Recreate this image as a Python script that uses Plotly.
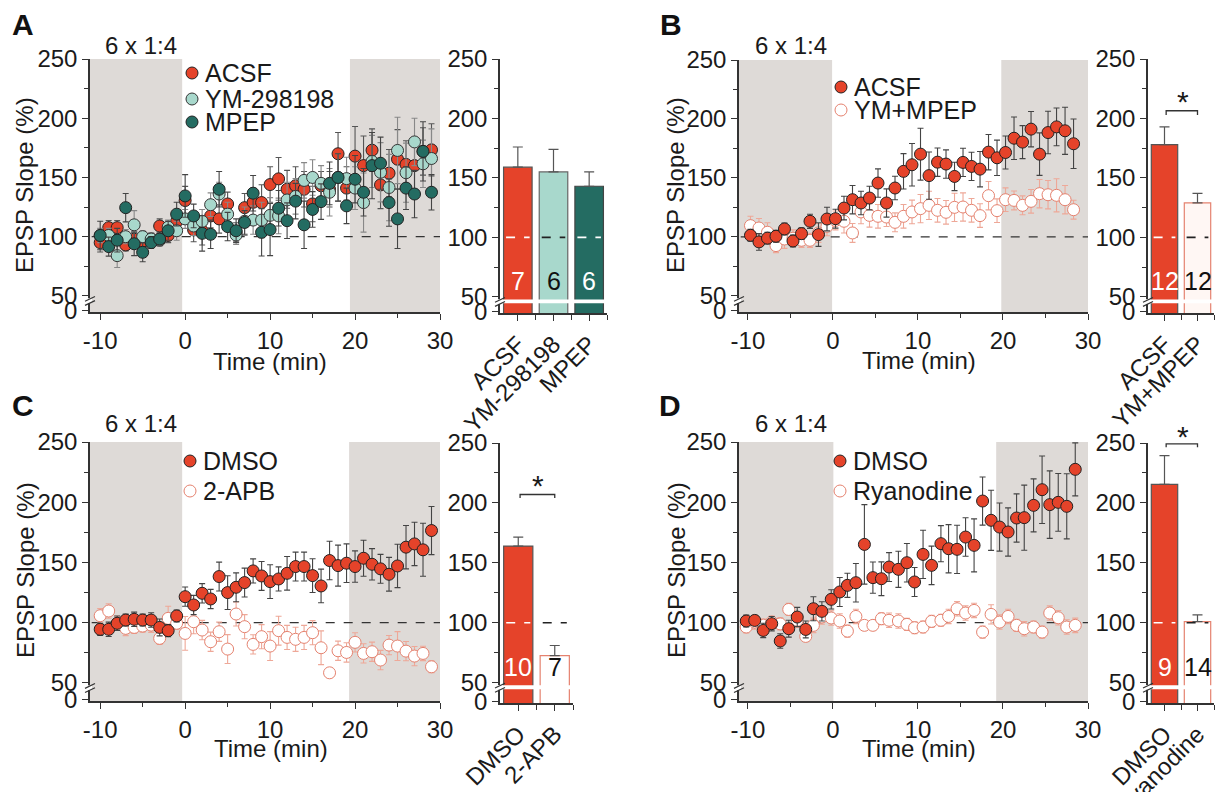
import plotly.graph_objects as go

W, H = 1223, 800          # browser window
OFF = 8                   # page body margin
FW, FH = W - 2 * OFF, H - 2 * OFF   # figure size that fits the window without scrolling

# ------------------------- data -------------------------
# Panel A
tA = [-10,-9,-8,-7,-6,-5,-4,-3,-2,-1,0,1,2,3,4,5,6,7,8,9,10,11,12,13,14,15,16,17,18,19,20,21,22,23,24,25,26,27,28,29]
A_acsf = [95,107.6,107.6,93,97.8,96,98,109,101,112.7,130.5,105.7,105,117.5,115,127.6,103.7,124.5,129,128.8,
          144,148.8,140,143,140,127.6,143,140,170,141,168,160,173,143.7,153.6,165.4,161,160,172,173.3]
A_acsf_err = [8,6,6,5,6,5,5,6,6,8,12,10,12,10,12,10,8,12,12,15,15,18,16,16,15,15,12,15,18,18,25,25,18,20,20,25,20,20,20,22]
A_ym = [101,101,84,100,110,100,98,97,108,105,115,109,113,127,136,119,101.4,113,114,114,
        118,117.5,131,134,147.5,150,145,137.5,150,149,141,128.8,163.5,154.4,141.5,172.8,154,180,161.5,166]
A_ym_err = [6,6,10,6,12,5,5,5,6,8,8,8,10,10,10,10,8,12,12,15,15,15,15,15,15,15,15,20,20,18,18,25,22,25,28,28,25,20,20,25]
A_mpep = [101,91.6,97,124.5,94,86.8,95,98,105,119,134.4,117.5,102.8,102,140,108.5,105,112,136.7,103.7,
          106,124,113.5,130,110,123,129.6,145,150,126,148.5,137.5,160,162,128.8,115,141,136,172,137.5]
A_mpep_err = [12,8,10,12,10,8,5,5,8,10,18,10,15,12,15,12,10,10,15,20,22,15,15,15,20,15,15,18,20,15,20,20,28,22,20,25,18,20,25,15]

# Panel B
tB = [-9.7,-8.7,-7.7,-6.7,-5.7,-4.7,-3.7,-2.7,-1.7,-0.7,0.3,1.3,2.3,3.3,4.3,5.3,6.3,7.3,8.3,9.3,
      10.3,11.3,12.3,13.3,14.3,15.3,16.3,17.3,18.3,19.3,20.3,21.3,22.3,23.3,24.3,25.3,26.3,27.3,28.3]
B_acsf = [101.4,95.8,99,100.6,106.8,96.6,102.8,113.3,102,115.2,115.5,124.5,131.6,128.8,133,145.7,128.8,141.5,155.6,161.2,
          170.2,152,163.4,161.8,151.3,163.2,159.8,157.5,171.9,167.1,171.6,183.7,180.4,191.4,170.2,188.5,193.3,190,179]
B_acsf_err = [5,7,5,5,5,5,5,6,10,10,8,10,12,10,10,12,12,10,15,18,22,20,12,12,12,12,12,15,15,15,14,18,14,15,18,18,16,20,21]
B_ymm = [109.6,107.6,104,92.7,98.3,99,97.2,97.2,103.4,109,114,113.3,103.4,121.2,118.3,117.5,116.9,112.4,117.5,121.2,
         124,126.8,122.6,120.9,125.1,125.4,122.6,118.1,135,122.3,131.6,131,126.8,130.2,136.7,135.8,135.3,131.6,123.1]
B_ymm_err = [8,8,8,6,8,7,6,6,8,8,8,10,8,10,10,10,8,8,10,10,12,12,10,10,12,12,10,10,12,10,10,8,8,10,12,12,14,12,8]

# Panel C
tC = [-10,-9,-8,-7,-6,-5,-4,-3,-2,-1,0,1,2,3,4,5,6,7,8,9,10,11,12,13,14,15,16,17,18,19,20,21,22,23,24,25,26,27,28,29]
C_dmso = [94.5,94.5,99.5,102.2,102.8,102.2,102.2,96.1,93.4,105.6,121.6,114.7,124.4,119.7,138.3,125,129.4,133.3,143,138.8,
          134.1,136.3,141,146.6,146.6,139.1,130.5,151.6,147.4,149.4,146.6,153.5,148.5,144.7,140.2,147.1,162.7,165.4,160.5,176.5]
C_dmso_err = [5,6,6,5,6,5,6,7,5,5,8,8,8,8,12,14,12,12,10,12,14,10,14,12,12,14,14,16,17,16,13,15,13,12,14,18,18,18,22,20]
C_apb = [105.8,109.7,99.5,95.3,96.1,97.2,98,87,103.6,99.5,91.1,100.8,93.9,84.2,92.5,78.1,107.2,96.7,82,88.4,
         80.6,93.4,87.8,86.2,87.8,91.7,79.2,58.4,76.7,75.3,83.7,74.5,75.9,69,81.4,80.6,76.4,72.3,74.5,63.4]
C_apb_err = [6,6,6,6,5,5,6,5,10,5,14,10,8,8,8,12,10,10,8,10,12,12,10,10,10,10,14,4,8,8,8,8,8,8,8,12,8,8,6,5]

# Panel D
tD = [-10.2,-9.2,-8.2,-7.2,-6.2,-5.2,-4.2,-3.2,-2.3,-1.3,-0.2,0.8,1.7,2.7,3.7,4.7,5.7,6.6,7.7,8.7,
      9.6,10.6,11.6,12.7,13.6,14.6,15.6,16.6,17.6,18.6,19.6,20.6,21.6,22.5,23.6,24.6,25.5,26.5,27.5,28.5]
D_dmso = [101.4,101.9,93.6,99.2,84.8,95,104.7,94.4,111.6,109.4,119.4,125.5,131,133.2,165,137.4,136.5,146.2,144.3,149.8,
          133.8,156.7,147.6,165.6,161.4,160.9,171.1,164.2,201,185,179.4,175.3,186.9,187.2,197.4,210.4,198,199.9,196.6,227.3]
D_dmso_err = [5,4,6,6,6,7,8,7,10,8,8,12,10,16,33,13,14,12,15,16,12,20,16,15,20,20,16,22,20,25,20,20,20,27,22,28,28,24,27,22]
D_rya = [96.4,100.5,98,100.5,99,111,102,88.6,97.8,104.7,103.9,101.4,93,105.2,97.8,97.8,103.3,102,101.4,98.6,
         95.8,96.4,101.1,102,105.2,111.6,108,110.2,92.2,106.9,100.5,105.2,97.8,95,96.4,92.2,108,104.1,96.4,97.8]
D_rya_err = [5,6,5,5,5,5,6,4,6,6,6,6,5,6,4,4,5,6,6,5,5,5,5,5,6,6,6,6,5,8,6,6,5,6,5,5,6,6,6,6]

# Bars
A_bar_names = ["ACSF", "YM-298198", "MPEP"]
A_bar_vals = [159, 155, 143]
A_bar_err = [17, 19, 12]
A_bar_n = ["7", "6", "6"]
B_bar_names = ["ACSF", "YM+MPEP"]
B_bar_vals = [178, 129]
B_bar_err = [15, 8]
B_bar_n = ["12", "12"]
C_bar_names = ["DMSO", "2-APB"]
C_bar_vals = [164, 72.5]
C_bar_err = [7.5, 8.5]
C_bar_n = ["10", "7"]
D_bar_names = ["DMSO", "Ryanodine"]
D_bar_vals = [215.5, 101]
D_bar_err = [24, 5.5]
D_bar_n = ["9", "14"]

y_ticks = [50, 100, 150, 200, 250]
x_ticks = [-10, 0, 10, 20, 30]
x_ticktext = ["-10", "0", "10", "20", "30"]

# ------------------------- styles -------------------------
RED = "#e5432a"
LTEAL = "#a8d8cc"
DTEAL = "#246c62"
OPEN_LINE = "#e5826f"
OPEN_ERR = "#eea898"
SHADE = "#dedad7"
AX = "#333333"
FONT = "Liberation Sans, Arial, sans-serif"
TXT = "#1a1a1a"

fig = go.Figure()
shapes = []
annotations = []
layout = {}


def px(xp):
    return (xp - OFF) / FW


def py(yp):
    return 1 - (yp - OFF) / FH


def add_scatter(ax_i, t, y, err, fill, line, errcol, name):
    xa = "x" if ax_i == 1 else f"x{ax_i}"
    ya = "y" if ax_i == 1 else f"y{ax_i}"
    fig.add_trace(go.Scatter(
        x=t, y=y, mode="markers", name=name, showlegend=False,
        xaxis=xa, yaxis=ya, cliponaxis=False,
        marker=dict(size=12, color=fill, line=dict(color=line, width=1)),
        error_y=dict(type="data", array=err, color=errcol, thickness=1.1, width=3),
    ))


panels = [
    dict(letter="A", sx=(90, 440), sy=(59, 312), xr=[-11.2, 30], yr=[36.4, 250],
         bx=(500, 607), by=(59, 313), byr=[36.4, 250], shade=(-0.35, 19.4),
         names=A_bar_names, vals=A_bar_vals, errs=A_bar_err, ns=A_bar_n,
         barfill=[RED, LTEAL, DTEAL], barline=["#555", "#666", "#444"],
         dashcol=["white", "#222", "white"], ncol=["white", "#111", "white"],
         legend=[("ACSF", RED, "#222", 73), ("YM-298198", LTEAL, "#333", 99), ("MPEP", DTEAL, "#222", 122)],
         legx=192, label_pos=(23, 25), stim=(141, 45), time_lbl=(270, 362), ytitle=(25, 185),
         sig=None),
    dict(letter="B", sx=(739, 1088), sy=(60, 312), xr=[-11.05, 30], yr=[36.4, 250],
         bx=(1148, 1214), by=(59, 313), byr=[36.4, 250], shade=(-0.1, 19.8),
         names=B_bar_names, vals=B_bar_vals, errs=B_bar_err, ns=B_bar_n,
         barfill=[RED, "#fff7f4"], barline=["#555", OPEN_LINE],
         dashcol=["white", "#222"], ncol=["white", "#111"],
         legend=[("ACSF", RED, "#222", 87), ("YM+MPEP", "white", OPEN_LINE, 110)],
         legx=841, label_pos=(671, 25), stim=(791, 45), time_lbl=(919, 360), ytitle=(676, 185),
         sig=(203, 206.5, 1183, 101)),
    dict(letter="C", sx=(90, 440), sy=(442, 701), xr=[-11.2, 30], yr=[35, 250],
         bx=(500, 573), by=(443, 703), byr=[33, 250], shade=(-0.35, 19.3),
         names=C_bar_names, vals=C_bar_vals, errs=C_bar_err, ns=C_bar_n,
         barfill=[RED, "white"], barline=["#555", OPEN_LINE],
         dashcol=["white", "#222"], ncol=["white", "#111"],
         legend=[("DMSO", RED, "#222", 461), ("2-APB", "white", OPEN_LINE, 491)],
         legx=190, label_pos=(23, 405), stim=(141, 423), time_lbl=(271, 748), ytitle=(25, 570),
         sig=(204, 207, 538, 485)),
    dict(letter="D", sx=(739, 1088), sy=(442, 701), xr=[-11.05, 30], yr=[35, 250],
         bx=(1148, 1214), by=(443, 703), byr=[33, 250], shade=(0.05, 19.2),
         names=D_bar_names, vals=D_bar_vals, errs=D_bar_err, ns=D_bar_n,
         barfill=[RED, "white"], barline=["#555", OPEN_LINE],
         dashcol=["white", "#222"], ncol=["white", "#111"],
         legend=[("DMSO", RED, "#222", 461), ("Ryanodine", "white", OPEN_LINE, 491)],
         legx=840, label_pos=(670, 405), stim=(791, 423), time_lbl=(919, 748), ytitle=(676, 570),
         sig=(246.5, 249.3, 1183, 436)),
]

series = [
    [(tA, A_acsf, A_acsf_err, RED, "#222", "#555", "ACSF"),
     (tA, A_ym, A_ym_err, LTEAL, "#333", "#888", "YM-298198"),
     (tA, A_mpep, A_mpep_err, DTEAL, "#222", "#444", "MPEP")],
    [(tB, B_ymm, B_ymm_err, "white", OPEN_LINE, OPEN_ERR, "YM+MPEP"),
     (tB, B_acsf, B_acsf_err, RED, "#222", "#444", "ACSF")],
    [(tC, C_apb, C_apb_err, "white", OPEN_LINE, OPEN_ERR, "2-APB"),
     (tC, C_dmso, C_dmso_err, RED, "#222", "#444", "DMSO")],
    [(tD, D_rya, D_rya_err, "white", OPEN_LINE, OPEN_ERR, "Ryanodine"),
     (tD, D_dmso, D_dmso_err, RED, "#222", "#444", "DMSO")],
]

tickfont = dict(family=FONT, size=24, color=TXT)

for i, p in enumerate(panels):
    si = 2 * i + 1
    bi = 2 * i + 2
    sxk = "xaxis" if si == 1 else f"xaxis{si}"
    syk = "yaxis" if si == 1 else f"yaxis{si}"
    sxr = "x" if si == 1 else f"x{si}"
    syr = "y" if si == 1 else f"y{si}"
    bxr, byr_ = f"x{bi}", f"y{bi}"

    common_ax = dict(showline=True, linecolor=AX, linewidth=1.5, ticks="outside", ticklen=6,
                     tickwidth=1.3, tickcolor=AX, showgrid=False, zeroline=False, tickfont=tickfont,
                     fixedrange=True, automargin=False)
    layout[sxk] = dict(common_ax, domain=[px(p["sx"][0]), px(p["sx"][1])], range=p["xr"], anchor=syr,
                       tickmode="array", tickvals=x_ticks, ticktext=x_ticktext,
                       minor=dict(tickvals=[-5, 5, 15, 25], ticklen=4, ticks="outside", tickcolor=AX))
    y0tick = p["yr"][0] + 1.2
    layout[syk] = dict(common_ax, domain=[py(p["sy"][1]), py(p["sy"][0])], range=p["yr"], anchor=sxr,
                       tickmode="array", tickvals=[y0tick] + y_ticks,
                       ticktext=["0"] + [str(v) for v in y_ticks],
                       minor=dict(tickvals=[75, 125, 175, 225], ticklen=4, ticks="outside", tickcolor=AX))
    n = len(p["names"])
    layout[f"xaxis{bi}"] = dict(common_ax, domain=[px(p["bx"][0]), px(p["bx"][1])], range=[-0.5, n - 0.5],
                                anchor=byr_, tickmode="array", tickvals=list(range(n)), ticktext=p["names"],
                                tickangle=-45,
                                minor=dict(tickvals=[k + 0.5 for k in range(n)], ticklen=5, ticks="outside",
                                           tickcolor=AX))
    by0tick = p["byr"][0] + 1.2
    layout[f"yaxis{bi}"] = dict(common_ax, domain=[py(p["by"][1]), py(p["by"][0])], range=p["byr"],
                                anchor=bxr, tickmode="array", tickvals=[by0tick] + y_ticks,
                                ticktext=["0"] + [str(v) for v in y_ticks],
                                minor=dict(tickvals=[75, 125, 175, 225], ticklen=4, ticks="outside",
                                           tickcolor=AX))

    # shading
    shapes.append(dict(type="rect", xref=sxr, yref=syr, x0=p["xr"][0], x1=p["shade"][0],
                       y0=p["yr"][0], y1=250, fillcolor=SHADE, line=dict(width=0), layer="below"))
    shapes.append(dict(type="rect", xref=sxr, yref=syr, x0=p["shade"][1], x1=30,
                       y0=p["yr"][0], y1=250, fillcolor=SHADE, line=dict(width=0), layer="below"))
    # baseline
    shapes.append(dict(type="line", xref=sxr, yref=syr, x0=p["xr"][0] + 0.2, x1=30, y0=100, y1=100,
                       line=dict(color="#333", width=1.3, dash="dash"), layer="below"))

    # scatter traces
    for (t, y, e, fill, line, ecol, nm) in series[i]:
        add_scatter(si, t, y, e, fill, line, ecol, nm)

    # bars
    fig.add_trace(go.Bar(
        x=list(range(n)), y=p["vals"], width=0.8, xaxis=bxr, yaxis=byr_, showlegend=False,
        marker=dict(color=p["barfill"], line=dict(color=p["barline"], width=1.2)),
        error_y=dict(type="data", symmetric=False, array=p["errs"], arrayminus=[0] * n,
                     color="#555", thickness=1.2, width=5),
    ))
    for k in range(n):
        shapes.append(dict(type="line", xref=bxr, yref=byr_, x0=k - 0.33, x1=k + 0.33, y0=100, y1=100,
                           line=dict(color=p["dashcol"][k], width=1.6, dash="dash"), layer="above"))
        annotations.append(dict(xref=bxr, yref=byr_, x=k, y=63, text=p["ns"][k], showarrow=False,
                                font=dict(family=FONT, size=25, color=p["ncol"][k])))

    # axis breaks (white gap + slashes)
    for (ax_px, yref, x_end) in [(p["sx"][0], syr, None), (p["bx"][0], byr_, p["bx"][1])]:
        if x_end is not None:
            shapes.append(dict(type="rect", xref="paper", yref=yref, x0=px(ax_px + 1), x1=px(x_end),
                               y0=44.5, y1=47.8, fillcolor="white", line=dict(width=0), layer="above"))
        shapes.append(dict(type="rect", xref="paper", yref=yref, x0=px(ax_px - 2), x1=px(ax_px + 2),
                           y0=44.0, y1=48.0, fillcolor="white", line=dict(width=0), layer="above"))
        for yy in (43.5, 47.0):
            shapes.append(dict(type="line", xref="paper", yref=yref, x0=px(ax_px - 5), x1=px(ax_px + 5),
                               y0=yy - 1.5, y1=yy + 2.5, line=dict(color=AX, width=1.2), layer="above"))

    # significance bracket
    if p["sig"] is not None:
        lo, hi, sx_px, sy_px = p["sig"]
        shapes.append(dict(type="path", xref=bxr, yref=byr_,
                           path=f"M 0.05 {lo} L 0.05 {hi} L 1.0 {hi} L 1.0 {lo}",
                           line=dict(color="#333", width=1.3)))
        annotations.append(dict(xref="paper", yref="paper", x=px(sx_px), y=py(sy_px), text="*",
                                showarrow=False, xanchor="center", yanchor="middle",
                                font=dict(family=FONT, size=30, color=TXT)))

    # legend (markers + labels)
    for (lbl, fc, lc, ly) in p["legend"]:
        r = 6
        shapes.append(dict(type="circle", xref="paper", yref="paper",
                           x0=px(p["legx"] - r), x1=px(p["legx"] + r), y0=py(ly + r), y1=py(ly - r),
                           fillcolor=fc, line=dict(color=lc, width=1)))
        annotations.append(dict(xref="paper", yref="paper", x=px(p["legx"] + 11), y=py(ly), text=lbl,
                                xanchor="left", yanchor="middle", showarrow=False,
                                font=dict(family=FONT, size=25, color=TXT)))

    # texts
    annotations.append(dict(xref="paper", yref="paper", x=px(p["label_pos"][0]), y=py(p["label_pos"][1]),
                            text=f"<b>{p['letter']}</b>", showarrow=False, xanchor="center", yanchor="middle",
                            font=dict(family=FONT, size=30, color="#111")))
    annotations.append(dict(xref="paper", yref="paper", x=px(p["stim"][0]), y=py(p["stim"][1]),
                            text="6 x 1:4", showarrow=False, xanchor="center", yanchor="middle",
                            font=dict(family=FONT, size=24, color=TXT)))
    annotations.append(dict(xref="paper", yref="paper", x=px(p["time_lbl"][0]), y=py(p["time_lbl"][1]),
                            text="Time (min)", showarrow=False, xanchor="center", yanchor="middle",
                            font=dict(family=FONT, size=24, color=TXT)))
    annotations.append(dict(xref="paper", yref="paper", x=px(p["ytitle"][0]), y=py(p["ytitle"][1]),
                            text="EPSP Slope (%)", showarrow=False, xanchor="center", yanchor="middle",
                            textangle=-90, font=dict(family=FONT, size=24, color=TXT)))

fig.update_layout(
    template="none",
    width=FW, height=FH, margin=dict(l=0, r=0, t=0, b=0, pad=0),
    paper_bgcolor="white", plot_bgcolor="white",
    font=dict(family=FONT, size=24, color=TXT),
    showlegend=False, shapes=shapes, annotations=annotations, bargap=0.2,
    **layout,
)

fig.write_html("out.html")
